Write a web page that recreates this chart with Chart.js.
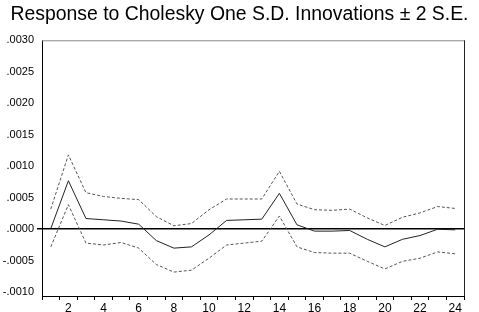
<!DOCTYPE html>
<html>
<head>
<meta charset="utf-8">
<script src="https://cdn.jsdelivr.net/npm/chart.js@4"></script>
<style>
  html, body { margin: 0; padding: 0; background: #fff; }
  #wrap { width: 479px; height: 312px; }
</style>
</head>
<body>
<div id="wrap"><canvas id="irf-chart" width="479" height="312"></canvas></div>
<script>
var periods = [1, 2, 3, 4, 5, 6, 7, 8, 9, 10, 11, 12, 13, 14, 15, 16, 17, 18, 19, 20, 21, 22, 23, 24];

var response = [0.00001, 0.00077, 0.00017, 0.00015, 0.00013, 0.00008, -0.00018, -0.00030, -0.00028, -0.00009, 0.00014, 0.00015,
                0.00016, 0.00057, 0.00007, -0.00003, -0.00003, -0.00002, -0.00016, -0.00028, -0.00016, -0.00010, 0.00000, -0.00001];

var upperBand = [0.00032, 0.00118, 0.00058, 0.00052, 0.00049, 0.00047, 0.00020, 0.000055, 0.00009, 0.00031, 0.00048, 0.00048,
                 0.00048, 0.00092, 0.00040, 0.00031, 0.00030, 0.00032, 0.00018, 0.00006, 0.00019, 0.00026, 0.00036, 0.00033];

var lowerBand = [-0.00028, 0.00039, -0.00022, -0.00025, -0.00021, -0.00030, -0.00056, -0.00068, -0.00065, -0.00046, -0.00025, -0.00022,
                 -0.00019, 0.00021, -0.00028, -0.00037, -0.00038, -0.00038, -0.00051, -0.00063, -0.00051, -0.00046, -0.00036, -0.00039];

var yTicks = [-0.0010, -0.0005, 0.0000, 0.0005, 0.0010, 0.0015, 0.0020, 0.0025, 0.0030];

function fmtTick(v) {
    var s = Math.abs(v).toFixed(4).replace(/^0/, '');
    return (v < -1e-9 ? '-' : '') + s;
}

// top and right frame lines
var framePlugin = {
    id: 'frame',
    afterDraw: function(chart) {
        var a = chart.chartArea;
        var ctx = chart.ctx;
        ctx.save();
        ctx.lineWidth = 1;
        ctx.strokeStyle = '#8a8a8a';
        ctx.beginPath();
        ctx.moveTo(a.left, a.top + 0.5);
        ctx.lineTo(a.right, a.top + 0.5);
        ctx.stroke();
        ctx.strokeStyle = '#222';
        ctx.beginPath();
        ctx.moveTo(a.right + 0.5, a.top);
        ctx.lineTo(a.right + 0.5, a.bottom);
        ctx.stroke();
        ctx.restore();
    }
};

var dashedStyle = {
    borderColor: '#555',
    borderWidth: 1,
    borderDash: [3, 2],
    pointRadius: 0,
    tension: 0,
    fill: false
};

new Chart(document.getElementById('irf-chart'), {
    type: 'line',
    data: {
        labels: periods,
        datasets: [
            Object.assign({ label: 'Upper', data: upperBand }, dashedStyle),
            {
                label: 'Response',
                data: response,
                borderColor: '#222',
                borderWidth: 1,
                pointRadius: 0,
                tension: 0,
                fill: false
            },
            Object.assign({ label: 'Lower', data: lowerBand }, dashedStyle)
        ]
    },
    options: {
        responsive: false,
        animation: false,
        layout: { padding: 0 },
        plugins: {
            legend: { display: false },
            tooltip: { enabled: false },
            title: {
                display: true,
                text: 'Response to Cholesky One S.D. Innovations \u00b1 2 S.E.',
                color: '#000',
                font: { family: 'Liberation Sans, Arial, sans-serif', size: 19.4, weight: 'normal' },
                padding: { top: 3, bottom: 14 }
            }
        },
        scales: {
            x: {
                type: 'category',
                offset: true,
                border: { color: '#000', width: 1 },
                grid: {
                    offset: true,
                    drawOnChartArea: false,
                    drawTicks: true,
                    tickLength: 4,
                    tickColor: '#000'
                },
                ticks: {
                    autoSkip: false,
                    maxRotation: 0,
                    padding: 1,
                    color: '#000',
                    font: { family: 'Liberation Sans, Arial, sans-serif', size: 12 },
                    callback: function(value, index) {
                        var p = periods[index];
                        return p % 2 === 0 ? String(p) : '';
                    }
                },
                afterFit: function(scale) { scale.height = 16; }
            },
            y: {
                min: -0.00106,
                max: 0.0030,
                border: { color: '#000', width: 1 },
                grid: {
                    drawTicks: true,
                    tickLength: 5,
                    tickColor: '#000',
                    color: function(ctx) {
                        return ctx.tick && Math.abs(ctx.tick.value) < 1e-9 ? '#000' : 'rgba(0,0,0,0)';
                    },
                    lineWidth: function(ctx) {
                        return ctx.tick && Math.abs(ctx.tick.value) < 1e-9 ? 1.5 : 0;
                    }
                },
                ticks: {
                    padding: 3,
                    color: '#000',
                    font: { family: 'Liberation Sans, Arial, sans-serif', size: 11 },
                    callback: function(value) { return fmtTick(value); }
                },
                afterBuildTicks: function(scale) {
                    scale.ticks = yTicks.map(function(v) { return { value: v }; });
                },
                afterFit: function(scale) { scale.width = 42; }
            },
            // empty right-hand margin so the title stays centred on the canvas
            yRight: {
                position: 'right',
                display: true,
                grid: { display: false, drawTicks: false },
                border: { display: false },
                ticks: { display: false },
                afterFit: function(scale) { scale.width = 15; }
            }
        }
    },
    plugins: [framePlugin]
});
</script>
</body>
</html>
